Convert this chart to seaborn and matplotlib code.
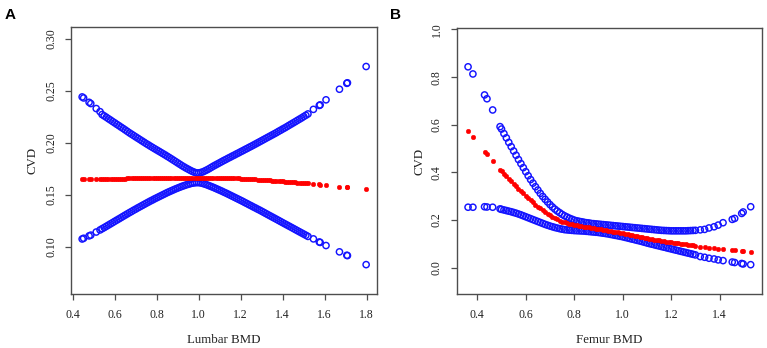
import numpy as np
import pandas as pd
import matplotlib
matplotlib.use("Agg")
import matplotlib.pyplot as plt
import seaborn as sns

# ---------------- Panel A : Lumbar BMD ----------------
a_x = [0.445, 0.452, 0.478, 0.486, 0.512, 0.530,
       0.54, 0.55, 0.56, 0.57, 0.58, 0.59, 0.60, 0.61, 0.62, 0.63, 0.64, 0.65, 0.66, 0.67,
       0.68, 0.69, 0.70, 0.71, 0.72, 0.73, 0.74, 0.75, 0.76, 0.77, 0.78, 0.79, 0.80, 0.81,
       0.82, 0.83, 0.84, 0.85, 0.86, 0.87, 0.88, 0.89, 0.90, 0.91, 0.92, 0.93, 0.94, 0.95,
       0.96, 0.97, 0.98, 0.99, 1.00, 1.01, 1.02, 1.03, 1.04, 1.05, 1.06, 1.07, 1.08, 1.09,
       1.10, 1.11, 1.12, 1.13, 1.14, 1.15, 1.16, 1.17, 1.18, 1.19, 1.20, 1.21, 1.22, 1.23,
       1.24, 1.25, 1.26, 1.27, 1.28, 1.29, 1.30, 1.31, 1.32, 1.33, 1.34, 1.35, 1.36, 1.37,
       1.38, 1.39, 1.40, 1.41, 1.42, 1.43, 1.44, 1.45, 1.46, 1.47, 1.48, 1.49, 1.50, 1.51, 1.52,
       1.546, 1.574, 1.578, 1.606, 1.670, 1.705, 1.708, 1.797]
a_upper = [0.2442, 0.2432, 0.2390, 0.2378, 0.2330, 0.2300,
           0.2272, 0.2259, 0.2246, 0.2232, 0.2219, 0.2205, 0.2192, 0.2178, 0.2165, 0.2151,
           0.2138, 0.2124, 0.2110, 0.2096, 0.2083, 0.2070, 0.2057, 0.2044, 0.2031, 0.2018,
           0.2005, 0.1992, 0.1980, 0.1967, 0.1955, 0.1943, 0.1931, 0.1919, 0.1907, 0.1895,
           0.1883, 0.1870, 0.1858, 0.1845, 0.1832, 0.1819, 0.1806, 0.1793, 0.1780, 0.1768,
           0.1756, 0.1745, 0.1734, 0.1724, 0.1716, 0.1710, 0.1710, 0.1714, 0.1720, 0.1730,
           0.1740, 0.1751, 0.1763, 0.1775, 0.1786, 0.1797, 0.1808, 0.1819, 0.1830, 0.1840,
           0.1851, 0.1861, 0.1872, 0.1882, 0.1893, 0.1903, 0.1914, 0.1924, 0.1935, 0.1945,
           0.1956, 0.1966, 0.1977, 0.1988, 0.1999, 0.2010, 0.2021, 0.2032, 0.2043, 0.2054,
           0.2065, 0.2076, 0.2087, 0.2098, 0.2110, 0.2121, 0.2133, 0.2144, 0.2156, 0.2168,
           0.2180, 0.2192, 0.2204, 0.2216, 0.2228, 0.2240, 0.2253, 0.2265, 0.2278,
           0.2322, 0.2360, 0.2365, 0.2414, 0.2516, 0.2573, 0.2578, 0.2735]
a_lower = [0.1073, 0.1080, 0.1103, 0.1110, 0.1140, 0.1160,
           0.1172, 0.1183, 0.1195, 0.1207, 0.1219, 0.1231, 0.1243, 0.1255, 0.1267, 0.1279,
           0.1291, 0.1303, 0.1315, 0.1327, 0.1338, 0.1350, 0.1361, 0.1373, 0.1384, 0.1395,
           0.1406, 0.1417, 0.1428, 0.1439, 0.1449, 0.1460, 0.1470, 0.1480, 0.1490, 0.1500,
           0.1510, 0.1520, 0.1529, 0.1538, 0.1547, 0.1556, 0.1564, 0.1572, 0.1580, 0.1587,
           0.1594, 0.1600, 0.1606, 0.1611, 0.1614, 0.1616, 0.1616, 0.1613, 0.1608, 0.1601,
           0.1594, 0.1586, 0.1578, 0.1570, 0.1561, 0.1552, 0.1543, 0.1534, 0.1524, 0.1515,
           0.1505, 0.1495, 0.1485, 0.1475, 0.1465, 0.1455, 0.1445, 0.1435, 0.1424, 0.1414,
           0.1403, 0.1393, 0.1382, 0.1372, 0.1361, 0.1351, 0.1340, 0.1329, 0.1318, 0.1307,
           0.1296, 0.1285, 0.1274, 0.1263, 0.1252, 0.1241, 0.1230, 0.1219, 0.1208, 0.1197,
           0.1186, 0.1175, 0.1164, 0.1153, 0.1142, 0.1131, 0.1120, 0.1109, 0.1098,
           0.1074, 0.1044, 0.1040, 0.1010, 0.0949, 0.0916, 0.0913, 0.0826]
a_fit = [0.1649, 0.1649, 0.1650, 0.1650, 0.1651, 0.1651,
         0.1652, 0.1652, 0.1652, 0.1653, 0.1653, 0.1653, 0.1654, 0.1654, 0.1654, 0.1655,
         0.1655, 0.1655, 0.1656, 0.1656, 0.1656, 0.1657, 0.1657, 0.1658, 0.1658, 0.1658,
         0.1659, 0.1659, 0.1659, 0.1660, 0.1660, 0.1661, 0.1661, 0.1661, 0.1661, 0.1662,
         0.1662, 0.1662, 0.1663, 0.1663, 0.1663, 0.1664, 0.1664, 0.1664, 0.1664, 0.1665,
         0.1665, 0.1665, 0.1665, 0.1665, 0.1665, 0.1665, 0.1665, 0.1665, 0.1665, 0.1665,
         0.1665, 0.1665, 0.1664, 0.1664, 0.1664, 0.1663, 0.1663, 0.1662, 0.1662, 0.1661,
         0.1661, 0.1660, 0.1659, 0.1658, 0.1657, 0.1656, 0.1655, 0.1654, 0.1653, 0.1652,
         0.1651, 0.1650, 0.1649, 0.1647, 0.1646, 0.1644, 0.1643, 0.1641, 0.1640, 0.1638,
         0.1637, 0.1635, 0.1634, 0.1632, 0.1631, 0.1629, 0.1628, 0.1626, 0.1625, 0.1623,
         0.1622, 0.1620, 0.1619, 0.1617, 0.1616, 0.1614, 0.1613, 0.1611, 0.1610,
         0.1603, 0.1599, 0.1598, 0.1594, 0.1578, 0.1571, 0.1570, 0.1555]

# ---------------- Panel B : Femur BMD ----------------
b_x = [0.362, 0.382, 0.430, 0.440, 0.4635, 0.494,
       0.50, 0.51, 0.52, 0.53, 0.54, 0.55, 0.56, 0.57, 0.58, 0.59, 0.60, 0.61, 0.62, 0.63,
       0.64, 0.65, 0.66, 0.67, 0.68, 0.69, 0.70, 0.71, 0.72, 0.73, 0.74, 0.75, 0.76, 0.77,
       0.78, 0.79, 0.80, 0.81, 0.82, 0.83, 0.84, 0.85, 0.86, 0.87, 0.88, 0.89, 0.90, 0.91,
       0.92, 0.93, 0.94, 0.95, 0.96, 0.97, 0.98, 0.99, 1.00, 1.01, 1.02, 1.03, 1.04, 1.05,
       1.06, 1.07, 1.08, 1.09, 1.10, 1.11, 1.12, 1.13, 1.14, 1.15, 1.16, 1.17, 1.18, 1.19,
       1.20, 1.21, 1.22, 1.23, 1.24, 1.25, 1.26, 1.27, 1.28, 1.29, 1.30,
       1.32, 1.338, 1.356, 1.377, 1.394, 1.414, 1.452, 1.462, 1.491, 1.497, 1.528]
b_upper = [0.843, 0.813, 0.725, 0.709, 0.662, 0.592,
           0.582, 0.563, 0.545, 0.526, 0.508, 0.490, 0.472, 0.454, 0.437, 0.420, 0.403,
           0.386, 0.370, 0.355, 0.340, 0.326, 0.312, 0.299, 0.287, 0.276, 0.265, 0.255,
           0.246, 0.238, 0.231, 0.224, 0.218, 0.213, 0.208, 0.204, 0.200, 0.197, 0.195,
           0.193, 0.191, 0.189, 0.188, 0.186, 0.185, 0.184, 0.183, 0.182, 0.181, 0.180,
           0.179, 0.178, 0.177, 0.176, 0.175, 0.174, 0.173, 0.172, 0.171, 0.170, 0.169,
           0.168, 0.167, 0.166, 0.165, 0.164, 0.163, 0.162, 0.161, 0.160, 0.159, 0.158,
           0.157, 0.1565, 0.156, 0.1555, 0.155, 0.155, 0.155, 0.155, 0.155, 0.155, 0.155,
           0.1555, 0.156, 0.1565, 0.157,
           0.159, 0.161, 0.167, 0.172, 0.179, 0.189, 0.203, 0.207, 0.228, 0.234, 0.256]
b_lower = [0.254, 0.254, 0.256, 0.255, 0.254, 0.247,
           0.245, 0.2425, 0.240, 0.2375, 0.235, 0.232, 0.229, 0.2255, 0.222, 0.218, 0.214,
           0.210, 0.206, 0.202, 0.198, 0.194, 0.190, 0.186, 0.182, 0.1785, 0.175, 0.172,
           0.169, 0.1665, 0.164, 0.162, 0.160, 0.159, 0.158, 0.157, 0.156, 0.1555, 0.155,
           0.1545, 0.154, 0.153, 0.152, 0.151, 0.150, 0.149, 0.148, 0.1465, 0.145, 0.1435,
           0.142, 0.140, 0.138, 0.136, 0.134, 0.132, 0.130, 0.1275, 0.125, 0.1225, 0.120,
           0.1175, 0.115, 0.1125, 0.110, 0.107, 0.104, 0.1015, 0.099, 0.0965, 0.094, 0.0915,
           0.089, 0.0865, 0.084, 0.0815, 0.079, 0.0765, 0.074, 0.0715, 0.069, 0.0665, 0.064,
           0.0615, 0.059, 0.0565, 0.054,
           0.047, 0.044, 0.040, 0.037, 0.033, 0.030, 0.024, 0.022, 0.018, 0.016, 0.013]
b_fit = [0.575, 0.550, 0.487, 0.478, 0.448, 0.410,
         0.404, 0.394, 0.384, 0.374, 0.364, 0.3535, 0.343, 0.3325, 0.322, 0.312, 0.302,
         0.2925, 0.283, 0.274, 0.265, 0.257, 0.249, 0.2415, 0.234, 0.227, 0.220, 0.214,
         0.208, 0.203, 0.198, 0.194, 0.190, 0.187, 0.184, 0.182, 0.180, 0.178, 0.176,
         0.174, 0.172, 0.1705, 0.169, 0.1675, 0.166, 0.1645, 0.163, 0.1615, 0.160, 0.158,
         0.156, 0.154, 0.152, 0.150, 0.148, 0.146, 0.144, 0.142, 0.140, 0.138, 0.136,
         0.134, 0.132, 0.130, 0.128, 0.126, 0.124, 0.122, 0.120, 0.118, 0.116, 0.1145,
         0.113, 0.1115, 0.110, 0.1085, 0.107, 0.1055, 0.104, 0.1025, 0.101, 0.0995, 0.098,
         0.0965, 0.095, 0.094, 0.093,
         0.089, 0.086, 0.083, 0.081, 0.079, 0.077, 0.074, 0.073, 0.070, 0.069, 0.066]

a_xticks = [0.4, 0.6, 0.8, 1.0, 1.2, 1.4, 1.6, 1.8]
a_yticks = [0.10, 0.15, 0.20, 0.25, 0.30]
b_xticks = [0.4, 0.6, 0.8, 1.0, 1.2, 1.4]
b_yticks = [0.0, 0.2, 0.4, 0.6, 0.8, 1.0]

SERIF = ["Liberation Serif", "DejaVu Serif"]
FRAME = "#4d4d4d"
TXT = "#222222"

fig = plt.figure(figsize=(7.67, 3.48), dpi=100)


def panel(rect, xs, up, lo, fit, xlim, ylim, xticks, yticks, xfmt, yfmt, xlabel, letter, letter_pos, ylpad):
    ax = fig.add_axes(rect)
    df = pd.DataFrame({"x": xs, "upper": up, "lower": lo, "fit": fit})
    for col in ["upper", "lower"]:
        sns.scatterplot(data=df, x="x", y=col, ax=ax, marker="o", s=20,
                        facecolors="none", edgecolor="#1414ff", linewidth=1.05, legend=False)
    sns.scatterplot(data=df, x="x", y="fit", ax=ax, marker="o", s=11,
                    color="#ff0000", edgecolor="#ff0000", linewidth=0.3, legend=False)
    ax.set_xlim(*xlim)
    ax.set_ylim(*ylim)
    ax.set_xticks(xticks)
    ax.set_xticklabels([xfmt.format(v) for v in xticks], fontfamily=SERIF, fontsize=8.5, color=TXT)
    ax.set_yticks(yticks)
    ax.set_yticklabels([yfmt.format(v) for v in yticks], fontfamily=SERIF, fontsize=8.5,
                       rotation=90, va="center", color=TXT)
    ax.tick_params(axis="both", direction="out", length=4, width=0.9, color=FRAME)
    ax.tick_params(axis="x", pad=7)
    ax.tick_params(axis="y", pad=6)
    for sp in ax.spines.values():
        sp.set_color(FRAME)
        sp.set_linewidth(1.0)
    ax.set_xlabel(xlabel, fontfamily=SERIF, fontsize=9.3, color=TXT, labelpad=9)
    ax.set_ylabel("CVD", fontfamily=SERIF, fontsize=9.3, color=TXT, labelpad=ylpad)
    ax.grid(False)
    fig.text(letter_pos[0], letter_pos[1], letter, fontfamily=["Liberation Sans", "DejaVu Sans"],
             fontweight="bold", fontsize=11, ha="left", va="top")
    return ax


panel([0.0926, 0.1552, 0.399, 0.7664], a_x, a_upper, a_lower, a_fit,
      (0.392, 1.849), (0.0543, 0.3113), a_xticks, a_yticks, "{:.1f}", "{:.2f}",
      "Lumbar BMD", "A", (0.006, 0.977), 5)
panel([0.5954, 0.1552, 0.398, 0.7635], b_x, b_upper, b_lower, b_fit,
      (0.315, 1.5745), (-0.110, 1.0046), b_xticks, b_yticks, "{:.1f}", "{:.1f}",
      "Femur BMD", "B", (0.508, 0.977), 4)

fig.savefig("out.png", dpi=100, facecolor="white")
